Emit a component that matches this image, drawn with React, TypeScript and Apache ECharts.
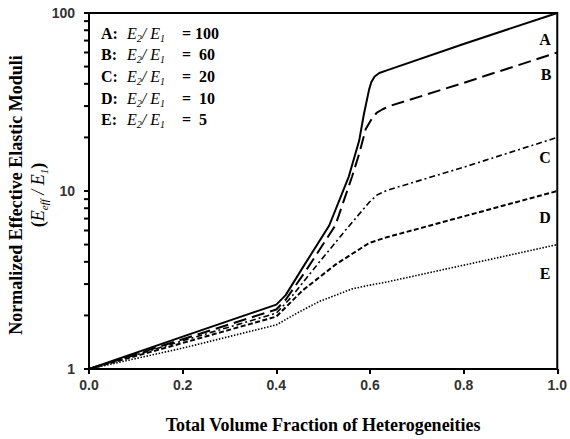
import React, { useEffect, useRef } from "react";
import * as echarts from "echarts";

// ---- data ----
const xA = [0, 0.2, 0.4, 0.42, 0.456, 0.513, 0.555, 0.577, 0.587, 0.598, 0.603, 0.61, 0.62, 0.636, 0.8, 1.0];
const yA = [1, 1.52, 2.3, 2.6, 3.7, 6.4, 12.1, 19.2, 27, 37, 41, 44, 46, 47.6, 67, 100];
const xB = [0, 0.2, 0.4, 0.42, 0.463, 0.526, 0.562, 0.577, 0.591, 0.605, 0.615, 0.626, 0.64, 0.8, 1.0];
const yB = [1, 1.47, 2.16, 2.45, 3.56, 6.4, 12.1, 16.2, 22.3, 25.8, 27.6, 28.7, 29.9, 40.5, 60];
const xC = [0, 0.2, 0.4, 0.43, 0.491, 0.548, 0.598, 0.615, 0.637, 0.8, 1.0];
const yC = [1, 1.44, 2.06, 2.5, 3.96, 6.03, 8.62, 9.5, 10.1, 13.6, 20];
const xD = [0, 0.2, 0.4, 0.456, 0.527, 0.598, 0.633, 0.8, 1.0];
const yD = [1, 1.4, 1.97, 2.76, 3.87, 5.1, 5.47, 7.2, 10];
const xE = [0, 0.2, 0.4, 0.45, 0.491, 0.562, 0.6, 0.633, 0.8, 1.0];
const yE = [1, 1.31, 1.77, 2.1, 2.39, 2.82, 2.96, 3.07, 3.83, 5];

const curveNames = ["A", "B", "C", "D", "E"];
const ratios = ["100", "60", "20", "10", "5"];
const xTicks = [0, 0.2, 0.4, 0.6, 0.8, 1.0];
const minorTickVals = [2, 3, 4, 5, 6, 7, 8, 9, 20, 30, 40, 50, 60, 70, 80, 90];

const SERIF = "'Liberation Serif', 'Times New Roman', serif";
const SANS = "'Liberation Sans', Arial, sans-serif";

const pairs = (xs: number[], ys: number[]) => xs.map((x, i) => [x, ys[i]]);

const lineStyles = [
  { type: "solid", width: 2 },
  { type: [13, 6], width: 2 },
  { type: [6, 3, 2, 3], width: 1.6 },
  { type: [5, 2.5], width: 2 },
  { type: [1.5, 1.6], width: 1.6 },
];
const seriesData = [pairs(xA, yA), pairs(xB, yB), pairs(xC, yC), pairs(xD, yD), pairs(xE, yE)];

const labelPos = [
  [545, 39],
  [546, 74],
  [545, 157],
  [545, 217],
  [545, 273],
];

export default function App() {
  const ref = useRef<HTMLDivElement>(null);
  useEffect(() => {
    if (!ref.current) return;
    const chart = echarts.init(ref.current, undefined, { renderer: "svg" });

    const rich = {
      b: { fontFamily: SERIF, fontWeight: "bold", fontSize: 16, color: "#000", lineHeight: 20 },
      i: { fontFamily: SERIF, fontStyle: "italic", fontSize: 16, color: "#000", lineHeight: 20 },
      s: { fontFamily: SERIF, fontStyle: "italic", fontSize: 10, color: "#000", verticalAlign: "bottom", lineHeight: 14 },
    };
    const richT = {
      b: { fontFamily: SERIF, fontWeight: "bold", fontSize: 18, color: "#000", lineHeight: 22 },
      i: { fontFamily: SERIF, fontStyle: "italic", fontSize: 18, color: "#000", lineHeight: 22 },
      s: { fontFamily: SERIF, fontStyle: "italic", fontSize: 11, color: "#000", verticalAlign: "bottom", lineHeight: 15 },
    };

    const graphics: any[] = [];
    curveNames.forEach((n, k) => {
      const y = 33 + k * 21.7;
      graphics.push({
        type: "text",
        x: 101,
        y,
        style: { text: `{b|${n}:}`, rich, verticalAlign: "middle", align: "left" },
      });
      graphics.push({
        type: "text",
        x: 127,
        y,
        style: { text: `{i|E}{s|2}{i|/ E}{s|1}`, rich, verticalAlign: "middle", align: "left" },
      });
      graphics.push({
        type: "text",
        x: 182,
        y,
        style: {
          text: k === 0 ? `{b|= ${ratios[k]}}` : `{b|=  ${ratios[k]}}`,
          rich,
          verticalAlign: "middle",
          align: "left",
        },
      });
      graphics.push({
        type: "text",
        x: labelPos[k][0],
        y: labelPos[k][1],
        style: {
          text: n,
          font: `bold 16px ${SERIF}`,
          fill: "#000",
          align: "center",
          verticalAlign: "middle",
        },
      });
    });
    // y-axis title
    graphics.push({
      type: "text",
      x: 16,
      y: 195,
      rotation: Math.PI / 2,
      style: {
        text: "Normalized Effective Elastic Moduli",
        font: `bold 18px ${SERIF}`,
        fill: "#000",
        align: "center",
        verticalAlign: "middle",
      },
    });
    graphics.push({
      type: "text",
      x: 38,
      y: 195,
      rotation: Math.PI / 2,
      style: {
        text: "{b|(}{i|E}{s|eff}{i| / E}{s|1}{b|)}",
        rich: richT,
        align: "center",
        verticalAlign: "middle",
      },
    });

    const series: any[] = seriesData.map((d, k) => ({
      type: "line",
      name: curveNames[k],
      data: d,
      showSymbol: false,
      symbol: "none",
      smooth: false,
      lineStyle: { color: "#000", ...lineStyles[k] },
      z: 3,
    }));

    const option: any = {
      animation: false,
      backgroundColor: "#fff",
      grid: {
        left: 89,
        right: 11,
        top: 13,
        bottom: 62,
        show: true,
        borderColor: "#000",
        borderWidth: 2,
        containLabel: false,
      },
      xAxis: {
        type: "value",
        min: 0,
        max: 1,
        interval: 0.2,
        name: "Total Volume Fraction of Heterogeneities",
        nameLocation: "middle",
        nameGap: 47,
        nameTextStyle: { fontFamily: SERIF, fontWeight: "bold", fontSize: 18, color: "#000" },
        axisLine: { lineStyle: { color: "#000", width: 2 } },
        axisTick: { show: true, inside: false, length: 5, lineStyle: { color: "#000", width: 2 } },
        splitLine: { show: false },
        axisLabel: {
          margin: 9,
          fontFamily: SANS,
          fontWeight: "bold",
          fontSize: 14,
          color: "#333",
          formatter: (v: number) => (xTicks.some((t) => Math.abs(t - v) < 1e-9) ? v.toFixed(1) : ""),
        },
      },
      yAxis: {
        type: "log",
        logBase: 10,
        min: 1,
        max: 100,
        axisLine: { lineStyle: { color: "#000", width: 2 } },
        axisTick: { show: true, inside: false, length: 5, lineStyle: { color: "#000", width: 2 } },
        minorTick: { show: false },
        splitLine: { show: false },
        axisLabel: {
          margin: 14,
          fontFamily: SANS,
          fontWeight: "bold",
          fontSize: 14,
          color: "#333",
        },
      },
      graphic: graphics,
      series,
    };
    chart.setOption(option);

    // minor log ticks (2..9 per decade), placed through the axis scale
    const tickGraphics = minorTickVals.map((v) => {
      const p = chart.convertToPixel({ gridIndex: 0 }, [0, v]) as number[];
      return {
        type: "line",
        shape: { x1: p[0] - 5, y1: p[1], x2: p[0], y2: p[1] },
        style: { stroke: "#000", lineWidth: 2 },
        z: 10,
      };
    });
    chart.setOption({ graphic: [...graphics, ...tickGraphics] });

    return () => chart.dispose();
  }, []);
  return <div ref={ref} style={{ width: 570, height: 439, position: "absolute", left: 0, top: 0 }} />;
}
